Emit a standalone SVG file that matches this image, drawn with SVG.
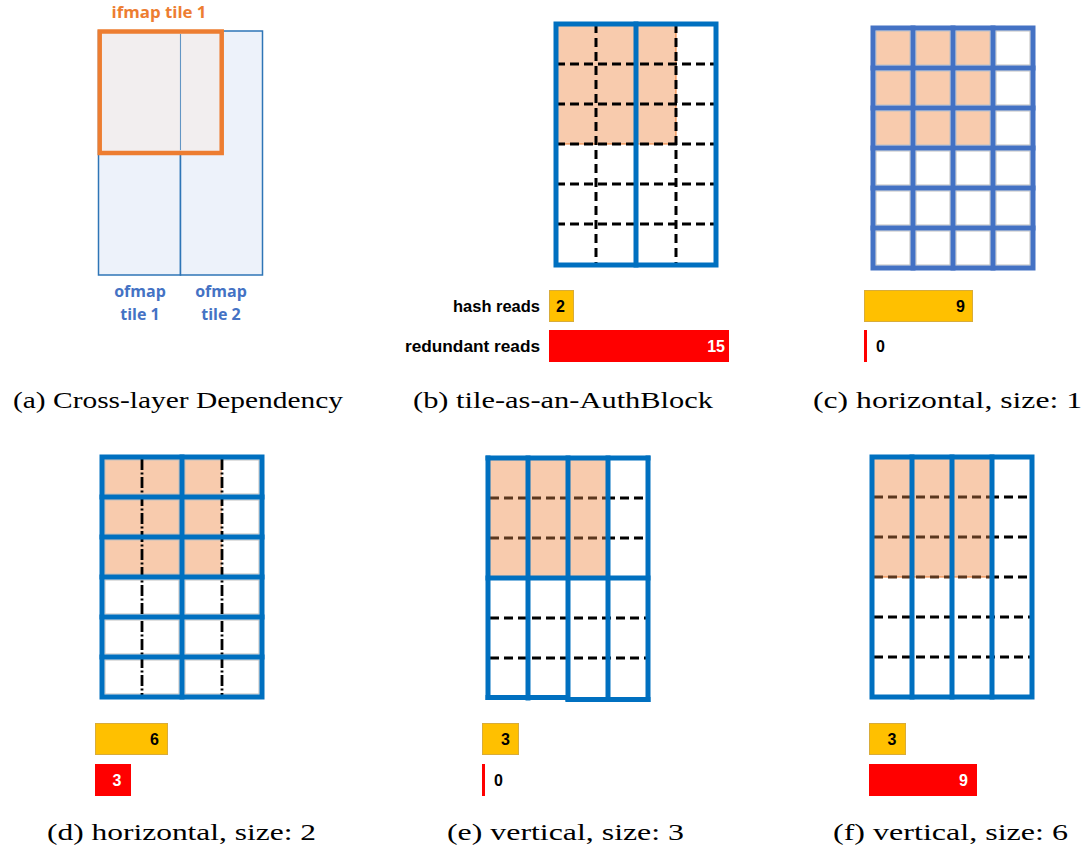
<svg xmlns="http://www.w3.org/2000/svg" width="1087" height="856" viewBox="0 0 1087 856">
  <style>
    .bl{stroke:#0070C0;stroke-width:5;fill:none;stroke-linecap:square}
    .bl2{stroke:#4472C4;stroke-width:5;fill:none;stroke-linecap:square}
    .dash{stroke:#000;stroke-width:3;stroke-dasharray:9 5;fill:none}
    .dashb{stroke:#5B371E;stroke-width:3;stroke-dasharray:9 5;fill:none}
    .dashdot{stroke:#000;stroke-width:2.8;stroke-dasharray:11 2.5 2 2.5;fill:none}
    .pink{fill:#F8CBAD}
    .cell{stroke:#BFBFBF;stroke-width:1}
    .cap{font-family:"Liberation Serif","DejaVu Serif",serif;font-size:24px;fill:#000}
    .lbl{font-family:"Liberation Sans",Arial,sans-serif;font-weight:bold;font-size:16px;fill:#000}
    .num{font-family:"Liberation Sans",Arial,sans-serif;font-weight:bold;font-size:16px}
    .yel{fill:#FFC000;stroke:#D8AC3A;stroke-width:1}
    .red{fill:#FF0000}
    .tile{font-family:"Open Sans","Liberation Sans",sans-serif;font-weight:bold;font-size:16px;text-anchor:middle}
  </style>

  <rect width="1087" height="856" fill="#fff"/>

  <!-- (a) cross-layer dependency -->
  <g id="panel-a">
    <rect x="98.5" y="31" width="82" height="244" fill="#EDF2FA" stroke="#2E75B6" stroke-width="1.5"/>
    <rect x="180.5" y="31" width="82" height="244" fill="#EDF2FA" stroke="#2E75B6" stroke-width="1.5"/>
    <rect x="99.7" y="31.5" width="122" height="121.5" fill="#F2EDED" fill-opacity="0.9" stroke="#ED7D31" stroke-width="4.5"/>
    <line x1="180.5" y1="34" x2="180.5" y2="150" stroke="#2E75B6" stroke-width="1" opacity="0.7"/>
    <text class="tile" x="159" y="17.5" fill="#ED7D31" font-size="17" textLength="95" lengthAdjust="spacingAndGlyphs">ifmap tile 1</text>
    <text class="tile" x="140" y="297" fill="#4472C4">ofmap</text>
    <text class="tile" x="140" y="320" fill="#4472C4">tile 1</text>
    <text class="tile" x="221" y="297" fill="#4472C4">ofmap</text>
    <text class="tile" x="221" y="320" fill="#4472C4">tile 2</text>
  </g>

  <!-- (b) tile-as-an-AuthBlock -->
  <g id="panel-b">
    <rect x="556" y="24" width="160" height="241" fill="#fff"/>
    <rect class="pink" x="556" y="24" width="120" height="120" stroke="#ED7D31" stroke-width="1"/>
    <g class="dash">
      <line x1="596" y1="24" x2="596" y2="265"/>
      <line x1="676" y1="24" x2="676" y2="265"/>
      <line x1="556" y1="64" x2="716" y2="64"/>
      <line x1="556" y1="104" x2="716" y2="104"/>
      <line x1="556" y1="144" x2="716" y2="144"/>
      <line x1="556" y1="184" x2="716" y2="184"/>
      <line x1="556" y1="224" x2="716" y2="224"/>
    </g>
    <line class="bl" x1="636" y1="24" x2="636" y2="265"/>
    <rect class="bl" x="556" y="24" width="160" height="241"/>
  </g>
  <g id="bars-b">
    <text class="lbl" x="540" y="312" text-anchor="end" textLength="87" lengthAdjust="spacingAndGlyphs">hash reads</text>
    <text class="lbl" x="540" y="352" text-anchor="end" textLength="135" lengthAdjust="spacingAndGlyphs">redundant reads</text>
    <rect class="yel" x="549.5" y="290.5" width="24" height="31"/>
    <text class="num" x="560.5" y="312" text-anchor="middle" fill="#000">2</text>
    <rect class="red" x="549" y="330" width="180" height="32"/>
    <text class="num" x="725" y="352" text-anchor="end" fill="#fff">15</text>
  </g>

  <!-- (c) horizontal, size 1 -->
  <g id="panel-c">
    <g class="cell">
      <rect class="pink" x="876" y="31" width="34" height="34"/>
      <rect class="pink" x="916" y="31" width="34" height="34"/>
      <rect class="pink" x="956" y="31" width="34" height="34"/>
      <rect fill="#fff" x="996" y="31" width="34" height="34"/>
      <rect class="pink" x="876" y="71" width="34" height="34"/>
      <rect class="pink" x="916" y="71" width="34" height="34"/>
      <rect class="pink" x="956" y="71" width="34" height="34"/>
      <rect fill="#fff" x="996" y="71" width="34" height="34"/>
      <rect class="pink" x="876" y="111" width="34" height="34"/>
      <rect class="pink" x="916" y="111" width="34" height="34"/>
      <rect class="pink" x="956" y="111" width="34" height="34"/>
      <rect fill="#fff" x="996" y="111" width="34" height="34"/>
      <rect fill="#fff" x="876" y="151" width="34" height="34"/>
      <rect fill="#fff" x="916" y="151" width="34" height="34"/>
      <rect fill="#fff" x="956" y="151" width="34" height="34"/>
      <rect fill="#fff" x="996" y="151" width="34" height="34"/>
      <rect fill="#fff" x="876" y="191" width="34" height="34"/>
      <rect fill="#fff" x="916" y="191" width="34" height="34"/>
      <rect fill="#fff" x="956" y="191" width="34" height="34"/>
      <rect fill="#fff" x="996" y="191" width="34" height="34"/>
      <rect fill="#fff" x="876" y="231" width="34" height="34"/>
      <rect fill="#fff" x="916" y="231" width="34" height="34"/>
      <rect fill="#fff" x="956" y="231" width="34" height="34"/>
      <rect fill="#fff" x="996" y="231" width="34" height="34"/>
    </g>
    <g class="bl2">
      <line x1="913" y1="28" x2="913" y2="268"/>
      <line x1="953" y1="28" x2="953" y2="268"/>
      <line x1="993" y1="28" x2="993" y2="268"/>
      <line x1="873" y1="68" x2="1033" y2="68"/>
      <line x1="873" y1="108" x2="1033" y2="108"/>
      <line x1="873" y1="148" x2="1033" y2="148"/>
      <line x1="873" y1="188" x2="1033" y2="188"/>
      <line x1="873" y1="228" x2="1033" y2="228"/>
      <rect x="873" y="28" width="160" height="240"/>
    </g>
  </g>
  <g id="bars-c">
    <rect class="yel" x="864.5" y="290.5" width="108" height="31"/>
    <text class="num" x="965" y="312" text-anchor="end" fill="#000">9</text>
    <rect class="red" x="864" y="330" width="3" height="32"/>
    <text class="num" x="876" y="352" fill="#000">0</text>
  </g>

  <!-- (d) horizontal, size 2 -->
  <g id="panel-d">
    <rect x="102" y="457" width="160" height="240" fill="#fff"/>
    <rect class="pink" x="102" y="457" width="120" height="120"/>
    <g class="cell" fill="none">
      <rect x="105" y="460" width="74" height="34"/>
      <rect x="185" y="460" width="74" height="34"/>
      <rect x="105" y="500" width="74" height="34"/>
      <rect x="185" y="500" width="74" height="34"/>
      <rect x="105" y="540" width="74" height="34"/>
      <rect x="185" y="540" width="74" height="34"/>
      <rect x="105" y="580" width="74" height="34"/>
      <rect x="185" y="580" width="74" height="34"/>
      <rect x="105" y="620" width="74" height="34"/>
      <rect x="185" y="620" width="74" height="34"/>
      <rect x="105" y="660" width="74" height="34"/>
      <rect x="185" y="660" width="74" height="34"/>
    </g>
    <g class="dashdot">
      <line x1="142" y1="459" x2="142" y2="696"/>
      <line x1="222" y1="459" x2="222" y2="696"/>
    </g>
    <g class="bl">
      <line x1="182" y1="457" x2="182" y2="697"/>
      <line x1="102" y1="497" x2="262" y2="497"/>
      <line x1="102" y1="537" x2="262" y2="537"/>
      <line x1="102" y1="577" x2="262" y2="577"/>
      <line x1="102" y1="617" x2="262" y2="617"/>
      <line x1="102" y1="657" x2="262" y2="657"/>
      <rect x="102" y="457" width="160" height="240"/>
    </g>
  </g>
  <g id="bars-d">
    <rect class="yel" x="95.5" y="723.5" width="72" height="31"/>
    <text class="num" x="159" y="745" text-anchor="end" fill="#000">6</text>
    <rect class="red" x="95" y="764" width="36" height="32"/>
    <text class="num" x="117" y="786" text-anchor="middle" fill="#fff">3</text>
  </g>

  <!-- (e) vertical, size 3 -->
  <g id="panel-e">
    <rect x="488" y="458" width="160" height="240" fill="#fff" stroke="#BFBFBF" stroke-width="1"/>
    <rect class="pink" x="488" y="458" width="120" height="120"/>
    <g class="dashb">
      <line x1="490" y1="498" x2="606" y2="498"/>
      <line x1="490" y1="538" x2="606" y2="538"/>
    </g>
    <g class="dash">
      <line x1="606" y1="498" x2="648" y2="498"/>
      <line x1="606" y1="538" x2="648" y2="538"/>
      <line x1="490" y1="618" x2="648" y2="618"/>
      <line x1="490" y1="658" x2="648" y2="658"/>
    </g>
    <g class="bl">
      <line x1="528" y1="458" x2="528" y2="698"/>
      <line x1="568" y1="458" x2="568" y2="699"/>
      <line x1="608" y1="458" x2="608" y2="699"/>
      <line x1="488" y1="578" x2="648" y2="578"/>
      <line x1="488" y1="458" x2="648" y2="458"/>
      <line x1="488" y1="458" x2="488" y2="697.5"/>
      <line x1="648" y1="458" x2="648" y2="699.5"/>
      <line x1="488" y1="697.5" x2="566" y2="697.5"/>
      <line x1="568" y1="699.5" x2="648" y2="699.5"/>
    </g>
  </g>
  <g id="bars-e">
    <rect class="yel" x="482.5" y="723.5" width="36" height="31"/>
    <text class="num" x="505.5" y="745" text-anchor="middle" fill="#000">3</text>
    <rect class="red" x="482" y="764" width="3" height="32"/>
    <text class="num" x="494" y="786" fill="#000">0</text>
  </g>

  <!-- (f) vertical, size 6 -->
  <g id="panel-f">
    <rect x="872" y="457" width="160" height="240" fill="#fff"/>
    <rect class="pink" x="872" y="457" width="120" height="120"/>
    <line x1="872" y1="577" x2="992" y2="577" stroke="#ED7D31" stroke-width="1.2"/>
    <g class="dashb">
      <line x1="874" y1="497" x2="990" y2="497"/>
      <line x1="874" y1="537" x2="990" y2="537"/>
      <line x1="874" y1="577" x2="990" y2="577"/>
    </g>
    <g class="dash">
      <line x1="990" y1="497" x2="1032" y2="497"/>
      <line x1="990" y1="537" x2="1032" y2="537"/>
      <line x1="990" y1="577" x2="1032" y2="577"/>
      <line x1="874" y1="617" x2="1032" y2="617"/>
      <line x1="874" y1="657" x2="1032" y2="657"/>
    </g>
    <g class="bl">
      <line x1="912" y1="457" x2="912" y2="697"/>
      <line x1="952" y1="457" x2="952" y2="697"/>
      <line x1="992" y1="457" x2="992" y2="697"/>
      <rect x="872" y="457" width="160" height="240"/>
    </g>
  </g>
  <g id="bars-f">
    <rect class="yel" x="869.5" y="723.5" width="36" height="31"/>
    <text class="num" x="892" y="745" text-anchor="middle" fill="#000">3</text>
    <rect class="red" x="869" y="764" width="108" height="32"/>
    <text class="num" x="968" y="786" text-anchor="end" fill="#fff">9</text>
  </g>

  <!-- sub-figure captions -->
  <g id="captions">
    <text class="cap" x="13" y="408" textLength="330" lengthAdjust="spacingAndGlyphs">(a) Cross-layer Dependency</text>
    <text class="cap" x="413" y="408" textLength="300" lengthAdjust="spacingAndGlyphs">(b) tile-as-an-AuthBlock</text>
    <text class="cap" x="813" y="408" textLength="269" lengthAdjust="spacingAndGlyphs">(c) horizontal, size: 1</text>
    <text class="cap" x="47" y="840" textLength="269" lengthAdjust="spacingAndGlyphs">(d) horizontal, size: 2</text>
    <text class="cap" x="447" y="840" textLength="237" lengthAdjust="spacingAndGlyphs">(e) vertical, size: 3</text>
    <text class="cap" x="833" y="840" textLength="235" lengthAdjust="spacingAndGlyphs">(f) vertical, size: 6</text>
  </g>
</svg>
